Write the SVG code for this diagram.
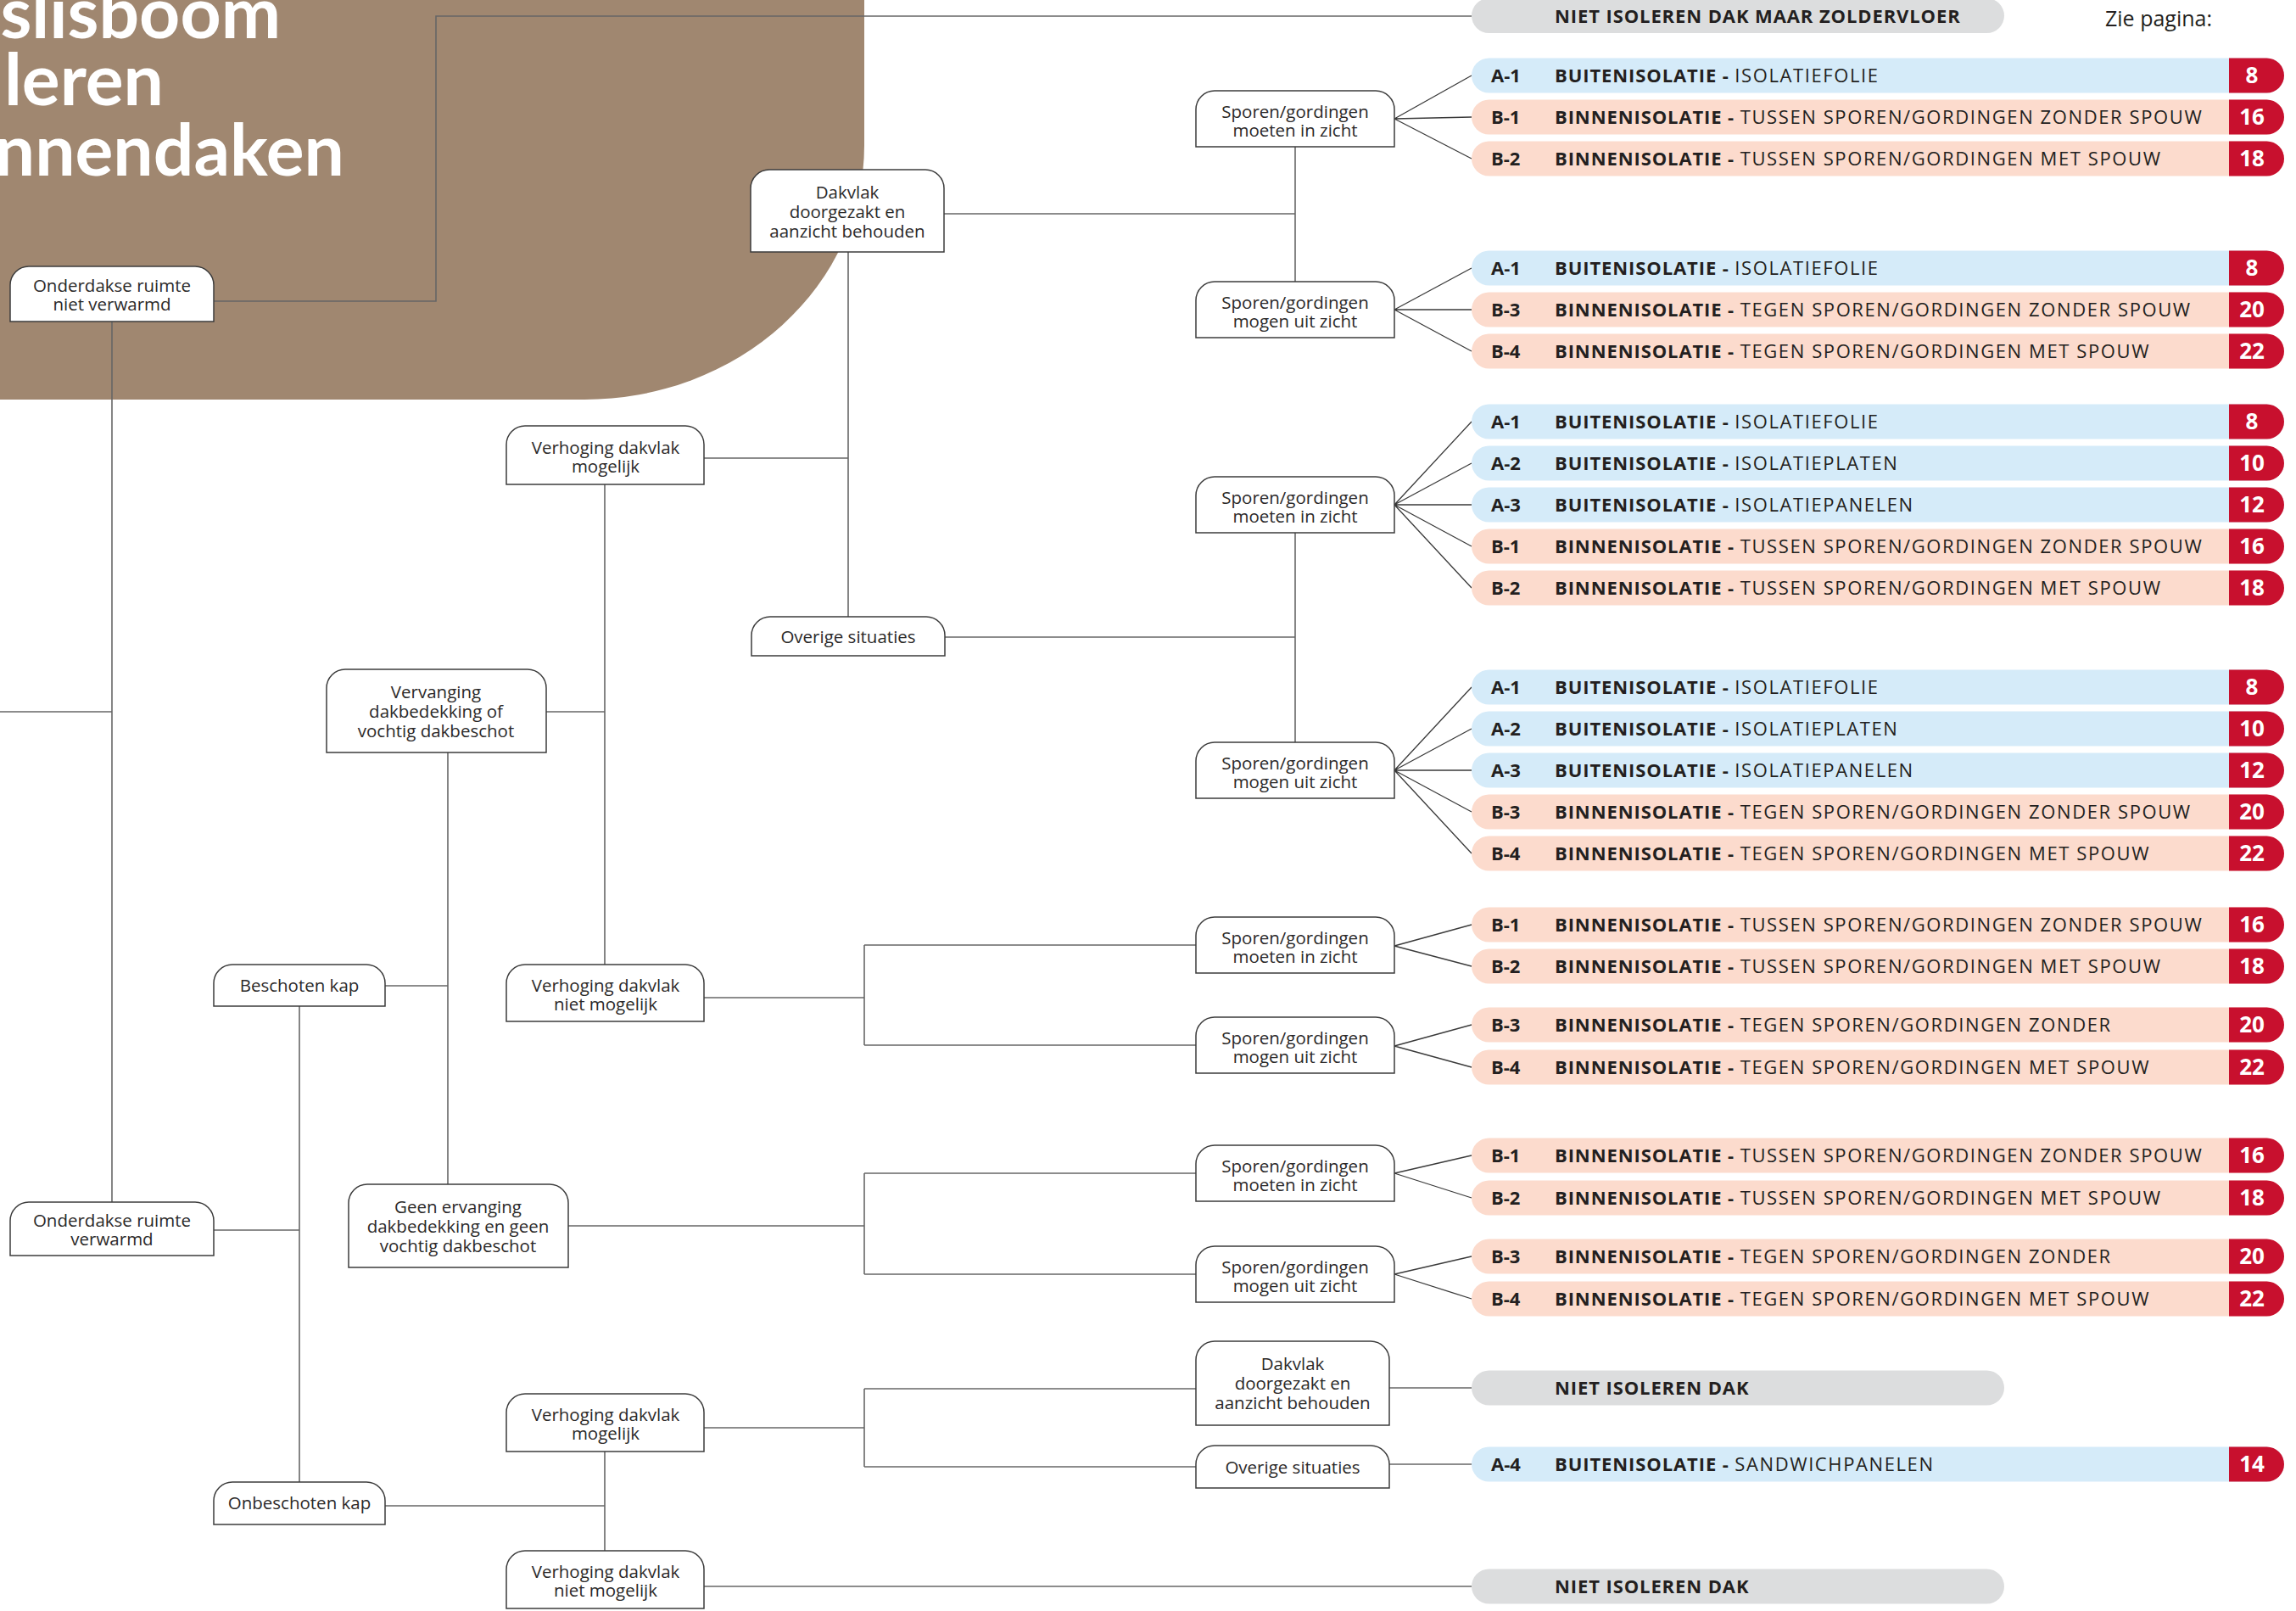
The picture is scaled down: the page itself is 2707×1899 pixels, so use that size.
<svg xmlns="http://www.w3.org/2000/svg" width="2707" height="1899" viewBox="0 0 2707 1899">
<defs>
<style>
.bg{fill:#a08770}
.title{font-family:Lato,"Open Sans",sans-serif;font-weight:700;font-size:84px;fill:#ffffff;text-anchor:end}
.node path{fill:#ffffff;stroke:#3c3c3c;stroke-width:1.5}
.node text{font-family:"Open Sans","Noto Sans",sans-serif;font-weight:500;font-size:20.5px;fill:#2b2929;text-anchor:middle}
.conn path{fill:none;stroke:#666666;stroke-width:1.6}
.fan path{fill:none;stroke:#3a3a3a;stroke-width:1.3}
.pa{fill:#d5ebf9}
.pb{fill:#fcdbcd}
.pg{fill:#dcddde}
.badge{fill:#c8102e}
.code{font-family:"Open Sans","Noto Sans",sans-serif;font-weight:700;font-size:22px;fill:#231f20}
.ptxt{font-family:"Open Sans","Noto Sans",sans-serif;font-size:22px;fill:#231f20}
.ptxt .b{font-weight:700;letter-spacing:0.9px}
.ptxt .m{font-weight:500;letter-spacing:1.6px}
.num{font-family:"Open Sans","Noto Sans",sans-serif;font-weight:700;font-size:26px;fill:#ffffff;text-anchor:middle}
.zie{font-family:"Open Sans","Noto Sans",sans-serif;font-size:25px;fill:#231f20}
</style>
</defs>
<rect width="2707" height="1899" fill="#ffffff"/>
<path class="bg" d="M0,-5 H1019 V171 A330 300 0 0 1 689,471 H0 Z"/>
<g id="title">
<text class="title" x="331" y="45">slisboom</text>
<text class="title" x="193" y="124">leren</text>
<text class="title" x="406" y="207">nnendaken</text>
</g>
<text class="zie" x="2482" y="31">Zie pagina:</text>

<g id="connectors" class="conn">
<path d="M252,355 H514 V19 H1735"/>
<path d="M132,379 V1417"/>
<path d="M0,839 H132"/>
<path d="M252,1450 H353"/>
<path d="M353,1186 V1747"/>
<path d="M454,1162 H528"/>
<path d="M528,887 V1396"/>
<path d="M644,839 H713"/>
<path d="M713,571 V1137"/>
<path d="M830,540 H1000"/>
<path d="M1000,297 V727"/>
<path d="M1113,252 H1527"/>
<path d="M1527,173 V332"/>
<path d="M1114,751 H1527"/>
<path d="M1527,628 V875"/>
<path d="M830,1176 H1019"/>
<path d="M1019,1114 V1232"/>
<path d="M1019,1114 H1410"/>
<path d="M1019,1232 H1410"/>
<path d="M670,1445 H1019"/>
<path d="M1019,1383 V1502"/>
<path d="M1019,1383 H1410"/>
<path d="M1019,1502 H1410"/>
<path d="M454,1775 H713"/>
<path d="M713,1711 V1828"/>
<path d="M830,1683 H1019"/>
<path d="M1019,1637 V1729"/>
<path d="M1019,1637 H1410"/>
<path d="M1019,1729 H1410"/>
<path d="M830,1870 H1735"/>
<path d="M1638,1636 H1735"/>
<path d="M1638,1726 H1735"/>
</g>
<g id="fans" class="fan">
<path d="M1644,140 L1735,89 M1644,140 L1735,138 M1644,140 L1735,187"/>
<path d="M1644,365 L1735,316 M1644,365 L1735,365 M1644,365 L1735,414"/>
<path d="M1644,595 L1735,497 M1644,595 L1735,546 M1644,595 L1735,595 M1644,595 L1735,644 M1644,595 L1735,693"/>
<path d="M1644,908 L1735,810 M1644,908 L1735,859 M1644,908 L1735,908 M1644,908 L1735,957 M1644,908 L1735,1006"/>
<path d="M1644,1115 L1735,1090 M1644,1115 L1735,1139"/>
<path d="M1644,1233 L1735,1208 M1644,1233 L1735,1258"/>
<path d="M1644,1383 L1735,1362 M1644,1383 L1735,1412"/>
<path d="M1644,1502 L1735,1481 M1644,1502 L1735,1531"/>
</g>

<g id="n_ond_nv" class="node"><path d="M12,379 V336 A22 22 0 0 1 34,314 H230 A22 22 0 0 1 252,336 V379 Z"/><text x="132" y="344">Onderdakse ruimte</text><text x="132" y="366">niet verwarmd</text></g>
<g id="n_ond_v" class="node"><path d="M12,1480 V1439 A22 22 0 0 1 34,1417 H230 A22 22 0 0 1 252,1439 V1480 Z"/><text x="132" y="1446">Onderdakse ruimte</text><text x="132" y="1468">verwarmd</text></g>
<g id="n_besch" class="node"><path d="M252,1186 V1159 A22 22 0 0 1 274,1137 H432 A22 22 0 0 1 454,1159 V1186 Z"/><text x="353" y="1169">Beschoten kap</text></g>
<g id="n_onbesch" class="node"><path d="M252,1797 V1769 A22 22 0 0 1 274,1747 H432 A22 22 0 0 1 454,1769 V1797 Z"/><text x="353" y="1779">Onbeschoten kap</text></g>
<g id="n_verv" class="node"><path d="M385,887 V811 A22 22 0 0 1 407,789 H622 A22 22 0 0 1 644,811 V887 Z"/><text x="514" y="823">Vervanging</text><text x="514" y="846">dakbedekking of</text><text x="514" y="869">vochtig dakbeschot</text></g>
<g id="n_geen" class="node"><path d="M411,1494 V1418 A22 22 0 0 1 433,1396 H648 A22 22 0 0 1 670,1418 V1494 Z"/><text x="540" y="1430">Geen ervanging</text><text x="540" y="1453">dakbedekking en geen</text><text x="540" y="1476">vochtig dakbeschot</text></g>
<g id="n_verh_m1" class="node"><path d="M597,571 V524 A22 22 0 0 1 619,502 H808 A22 22 0 0 1 830,524 V571 Z"/><text x="714" y="535">Verhoging dakvlak</text><text x="714" y="557">mogelijk</text></g>
<g id="n_verh_nm1" class="node"><path d="M597,1204 V1159 A22 22 0 0 1 619,1137 H808 A22 22 0 0 1 830,1159 V1204 Z"/><text x="714" y="1169">Verhoging dakvlak</text><text x="714" y="1191">niet mogelijk</text></g>
<g id="n_verh_m2" class="node"><path d="M597,1711 V1665 A22 22 0 0 1 619,1643 H808 A22 22 0 0 1 830,1665 V1711 Z"/><text x="714" y="1675">Verhoging dakvlak</text><text x="714" y="1697">mogelijk</text></g>
<g id="n_verh_nm2" class="node"><path d="M597,1896 V1850 A22 22 0 0 1 619,1828 H808 A22 22 0 0 1 830,1850 V1896 Z"/><text x="714" y="1860">Verhoging dakvlak</text><text x="714" y="1882">niet mogelijk</text></g>
<g id="n_dak1" class="node"><path d="M885,297 V222 A22 22 0 0 1 907,200 H1091 A22 22 0 0 1 1113,222 V297 Z"/><text x="999" y="234">Dakvlak</text><text x="999" y="257">doorgezakt en</text><text x="999" y="280">aanzicht behouden</text></g>
<g id="n_over1" class="node"><path d="M886,773 V749 A22 22 0 0 1 908,727 H1092 A22 22 0 0 1 1114,749 V773 Z"/><text x="1000" y="758">Overige situaties</text></g>
<g id="n_sp1m" class="node"><path d="M1410,173 V129 A22 22 0 0 1 1432,107 H1622 A22 22 0 0 1 1644,129 V173 Z"/><text x="1527" y="139">Sporen/gordingen</text><text x="1527" y="161">moeten in zicht</text></g>
<g id="n_sp1u" class="node"><path d="M1410,398 V354 A22 22 0 0 1 1432,332 H1622 A22 22 0 0 1 1644,354 V398 Z"/><text x="1527" y="364">Sporen/gordingen</text><text x="1527" y="386">mogen uit zicht</text></g>
<g id="n_sp2m" class="node"><path d="M1410,628 V584 A22 22 0 0 1 1432,562 H1622 A22 22 0 0 1 1644,584 V628 Z"/><text x="1527" y="594">Sporen/gordingen</text><text x="1527" y="616">moeten in zicht</text></g>
<g id="n_sp2u" class="node"><path d="M1410,941 V897 A22 22 0 0 1 1432,875 H1622 A22 22 0 0 1 1644,897 V941 Z"/><text x="1527" y="907">Sporen/gordingen</text><text x="1527" y="929">mogen uit zicht</text></g>
<g id="n_sp3m" class="node"><path d="M1410,1147 V1103 A22 22 0 0 1 1432,1081 H1622 A22 22 0 0 1 1644,1103 V1147 Z"/><text x="1527" y="1113">Sporen/gordingen</text><text x="1527" y="1135">moeten in zicht</text></g>
<g id="n_sp3u" class="node"><path d="M1410,1265 V1221 A22 22 0 0 1 1432,1199 H1622 A22 22 0 0 1 1644,1221 V1265 Z"/><text x="1527" y="1231">Sporen/gordingen</text><text x="1527" y="1253">mogen uit zicht</text></g>
<g id="n_sp4m" class="node"><path d="M1410,1416 V1372 A22 22 0 0 1 1432,1350 H1622 A22 22 0 0 1 1644,1372 V1416 Z"/><text x="1527" y="1382">Sporen/gordingen</text><text x="1527" y="1404">moeten in zicht</text></g>
<g id="n_sp4u" class="node"><path d="M1410,1535 V1491 A22 22 0 0 1 1432,1469 H1622 A22 22 0 0 1 1644,1491 V1535 Z"/><text x="1527" y="1501">Sporen/gordingen</text><text x="1527" y="1523">mogen uit zicht</text></g>
<g id="n_dak2" class="node"><path d="M1410,1680 V1603 A22 22 0 0 1 1432,1581 H1616 A22 22 0 0 1 1638,1603 V1680 Z"/><text x="1524" y="1615">Dakvlak</text><text x="1524" y="1638">doorgezakt en</text><text x="1524" y="1661">aanzicht behouden</text></g>
<g id="n_over2" class="node"><path d="M1410,1754 V1726 A22 22 0 0 1 1432,1704 H1616 A22 22 0 0 1 1638,1726 V1754 Z"/><text x="1524" y="1737">Overige situaties</text></g>

<g id="outcomes">
<g id="o_zolder"><rect class="pg" x="1735" y="-2" width="628" height="41" rx="20.5"/><text class="ptxt" x="1833" y="27"><tspan class="b">NIET ISOLEREN DAK MAAR ZOLDERVLOER</tspan></text></g>

<g id="g1">
<rect class="pa" x="1735" y="68.5" width="958" height="41" rx="20.5"/><path class="badge" d="M2628,68.5 H2672.5 A20.5 20.5 0 0 1 2672.5,109.5 H2628 Z"/><text class="code" x="1758" y="97">A-1</text><text class="ptxt" x="1833" y="97"><tspan class="b">BUITENISOLATIE - </tspan><tspan class="m">ISOLATIEFOLIE</tspan></text><text class="num" x="2655" y="98">8</text>
<rect class="pb" x="1735" y="117.5" width="958" height="41" rx="20.5"/><path class="badge" d="M2628,117.5 H2672.5 A20.5 20.5 0 0 1 2672.5,158.5 H2628 Z"/><text class="code" x="1758" y="146">B-1</text><text class="ptxt" x="1833" y="146"><tspan class="b">BINNENISOLATIE - </tspan><tspan class="m">TUSSEN SPOREN/GORDINGEN ZONDER SPOUW</tspan></text><text class="num" x="2655" y="147">16</text>
<rect class="pb" x="1735" y="166.5" width="958" height="41" rx="20.5"/><path class="badge" d="M2628,166.5 H2672.5 A20.5 20.5 0 0 1 2672.5,207.5 H2628 Z"/><text class="code" x="1758" y="195">B-2</text><text class="ptxt" x="1833" y="195"><tspan class="b">BINNENISOLATIE - </tspan><tspan class="m">TUSSEN SPOREN/GORDINGEN MET SPOUW</tspan></text><text class="num" x="2655" y="196">18</text>
</g>

<g id="g2">
<rect class="pa" x="1735" y="295.5" width="958" height="41" rx="20.5"/><path class="badge" d="M2628,295.5 H2672.5 A20.5 20.5 0 0 1 2672.5,336.5 H2628 Z"/><text class="code" x="1758" y="324">A-1</text><text class="ptxt" x="1833" y="324"><tspan class="b">BUITENISOLATIE - </tspan><tspan class="m">ISOLATIEFOLIE</tspan></text><text class="num" x="2655" y="325">8</text>
<rect class="pb" x="1735" y="344.5" width="958" height="41" rx="20.5"/><path class="badge" d="M2628,344.5 H2672.5 A20.5 20.5 0 0 1 2672.5,385.5 H2628 Z"/><text class="code" x="1758" y="373">B-3</text><text class="ptxt" x="1833" y="373"><tspan class="b">BINNENISOLATIE - </tspan><tspan class="m">TEGEN SPOREN/GORDINGEN ZONDER SPOUW</tspan></text><text class="num" x="2655" y="374">20</text>
<rect class="pb" x="1735" y="393.5" width="958" height="41" rx="20.5"/><path class="badge" d="M2628,393.5 H2672.5 A20.5 20.5 0 0 1 2672.5,434.5 H2628 Z"/><text class="code" x="1758" y="422">B-4</text><text class="ptxt" x="1833" y="422"><tspan class="b">BINNENISOLATIE - </tspan><tspan class="m">TEGEN SPOREN/GORDINGEN MET SPOUW</tspan></text><text class="num" x="2655" y="423">22</text>
</g>

<g id="g3">
<rect class="pa" x="1735" y="476.5" width="958" height="41" rx="20.5"/><path class="badge" d="M2628,476.5 H2672.5 A20.5 20.5 0 0 1 2672.5,517.5 H2628 Z"/><text class="code" x="1758" y="505">A-1</text><text class="ptxt" x="1833" y="505"><tspan class="b">BUITENISOLATIE - </tspan><tspan class="m">ISOLATIEFOLIE</tspan></text><text class="num" x="2655" y="506">8</text>
<rect class="pa" x="1735" y="525.5" width="958" height="41" rx="20.5"/><path class="badge" d="M2628,525.5 H2672.5 A20.5 20.5 0 0 1 2672.5,566.5 H2628 Z"/><text class="code" x="1758" y="554">A-2</text><text class="ptxt" x="1833" y="554"><tspan class="b">BUITENISOLATIE - </tspan><tspan class="m">ISOLATIEPLATEN</tspan></text><text class="num" x="2655" y="555">10</text>
<rect class="pa" x="1735" y="574.5" width="958" height="41" rx="20.5"/><path class="badge" d="M2628,574.5 H2672.5 A20.5 20.5 0 0 1 2672.5,615.5 H2628 Z"/><text class="code" x="1758" y="603">A-3</text><text class="ptxt" x="1833" y="603"><tspan class="b">BUITENISOLATIE - </tspan><tspan class="m">ISOLATIEPANELEN</tspan></text><text class="num" x="2655" y="604">12</text>
<rect class="pb" x="1735" y="623.5" width="958" height="41" rx="20.5"/><path class="badge" d="M2628,623.5 H2672.5 A20.5 20.5 0 0 1 2672.5,664.5 H2628 Z"/><text class="code" x="1758" y="652">B-1</text><text class="ptxt" x="1833" y="652"><tspan class="b">BINNENISOLATIE - </tspan><tspan class="m">TUSSEN SPOREN/GORDINGEN ZONDER SPOUW</tspan></text><text class="num" x="2655" y="653">16</text>
<rect class="pb" x="1735" y="672.5" width="958" height="41" rx="20.5"/><path class="badge" d="M2628,672.5 H2672.5 A20.5 20.5 0 0 1 2672.5,713.5 H2628 Z"/><text class="code" x="1758" y="701">B-2</text><text class="ptxt" x="1833" y="701"><tspan class="b">BINNENISOLATIE - </tspan><tspan class="m">TUSSEN SPOREN/GORDINGEN MET SPOUW</tspan></text><text class="num" x="2655" y="702">18</text>
</g>

<g id="g4">
<rect class="pa" x="1735" y="789.5" width="958" height="41" rx="20.5"/><path class="badge" d="M2628,789.5 H2672.5 A20.5 20.5 0 0 1 2672.5,830.5 H2628 Z"/><text class="code" x="1758" y="818">A-1</text><text class="ptxt" x="1833" y="818"><tspan class="b">BUITENISOLATIE - </tspan><tspan class="m">ISOLATIEFOLIE</tspan></text><text class="num" x="2655" y="819">8</text>
<rect class="pa" x="1735" y="838.5" width="958" height="41" rx="20.5"/><path class="badge" d="M2628,838.5 H2672.5 A20.5 20.5 0 0 1 2672.5,879.5 H2628 Z"/><text class="code" x="1758" y="867">A-2</text><text class="ptxt" x="1833" y="867"><tspan class="b">BUITENISOLATIE - </tspan><tspan class="m">ISOLATIEPLATEN</tspan></text><text class="num" x="2655" y="868">10</text>
<rect class="pa" x="1735" y="887.5" width="958" height="41" rx="20.5"/><path class="badge" d="M2628,887.5 H2672.5 A20.5 20.5 0 0 1 2672.5,928.5 H2628 Z"/><text class="code" x="1758" y="916">A-3</text><text class="ptxt" x="1833" y="916"><tspan class="b">BUITENISOLATIE - </tspan><tspan class="m">ISOLATIEPANELEN</tspan></text><text class="num" x="2655" y="917">12</text>
<rect class="pb" x="1735" y="936.5" width="958" height="41" rx="20.5"/><path class="badge" d="M2628,936.5 H2672.5 A20.5 20.5 0 0 1 2672.5,977.5 H2628 Z"/><text class="code" x="1758" y="965">B-3</text><text class="ptxt" x="1833" y="965"><tspan class="b">BINNENISOLATIE - </tspan><tspan class="m">TEGEN SPOREN/GORDINGEN ZONDER SPOUW</tspan></text><text class="num" x="2655" y="966">20</text>
<rect class="pb" x="1735" y="985.5" width="958" height="41" rx="20.5"/><path class="badge" d="M2628,985.5 H2672.5 A20.5 20.5 0 0 1 2672.5,1026.5 H2628 Z"/><text class="code" x="1758" y="1014">B-4</text><text class="ptxt" x="1833" y="1014"><tspan class="b">BINNENISOLATIE - </tspan><tspan class="m">TEGEN SPOREN/GORDINGEN MET SPOUW</tspan></text><text class="num" x="2655" y="1015">22</text>
</g>

<g id="g5">
<rect class="pb" x="1735" y="1069.5" width="958" height="41" rx="20.5"/><path class="badge" d="M2628,1069.5 H2672.5 A20.5 20.5 0 0 1 2672.5,1110.5 H2628 Z"/><text class="code" x="1758" y="1098">B-1</text><text class="ptxt" x="1833" y="1098"><tspan class="b">BINNENISOLATIE - </tspan><tspan class="m">TUSSEN SPOREN/GORDINGEN ZONDER SPOUW</tspan></text><text class="num" x="2655" y="1099">16</text>
<rect class="pb" x="1735" y="1118.5" width="958" height="41" rx="20.5"/><path class="badge" d="M2628,1118.5 H2672.5 A20.5 20.5 0 0 1 2672.5,1159.5 H2628 Z"/><text class="code" x="1758" y="1147">B-2</text><text class="ptxt" x="1833" y="1147"><tspan class="b">BINNENISOLATIE - </tspan><tspan class="m">TUSSEN SPOREN/GORDINGEN MET SPOUW</tspan></text><text class="num" x="2655" y="1148">18</text>
</g>

<g id="g6">
<rect class="pb" x="1735" y="1187.5" width="958" height="41" rx="20.5"/><path class="badge" d="M2628,1187.5 H2672.5 A20.5 20.5 0 0 1 2672.5,1228.5 H2628 Z"/><text class="code" x="1758" y="1216">B-3</text><text class="ptxt" x="1833" y="1216"><tspan class="b">BINNENISOLATIE - </tspan><tspan class="m">TEGEN SPOREN/GORDINGEN ZONDER</tspan></text><text class="num" x="2655" y="1217">20</text>
<rect class="pb" x="1735" y="1237.5" width="958" height="41" rx="20.5"/><path class="badge" d="M2628,1237.5 H2672.5 A20.5 20.5 0 0 1 2672.5,1278.5 H2628 Z"/><text class="code" x="1758" y="1266">B-4</text><text class="ptxt" x="1833" y="1266"><tspan class="b">BINNENISOLATIE - </tspan><tspan class="m">TEGEN SPOREN/GORDINGEN MET SPOUW</tspan></text><text class="num" x="2655" y="1267">22</text>
</g>

<g id="g7">
<rect class="pb" x="1735" y="1341.5" width="958" height="41" rx="20.5"/><path class="badge" d="M2628,1341.5 H2672.5 A20.5 20.5 0 0 1 2672.5,1382.5 H2628 Z"/><text class="code" x="1758" y="1370">B-1</text><text class="ptxt" x="1833" y="1370"><tspan class="b">BINNENISOLATIE - </tspan><tspan class="m">TUSSEN SPOREN/GORDINGEN ZONDER SPOUW</tspan></text><text class="num" x="2655" y="1371">16</text>
<rect class="pb" x="1735" y="1391.5" width="958" height="41" rx="20.5"/><path class="badge" d="M2628,1391.5 H2672.5 A20.5 20.5 0 0 1 2672.5,1432.5 H2628 Z"/><text class="code" x="1758" y="1420">B-2</text><text class="ptxt" x="1833" y="1420"><tspan class="b">BINNENISOLATIE - </tspan><tspan class="m">TUSSEN SPOREN/GORDINGEN MET SPOUW</tspan></text><text class="num" x="2655" y="1421">18</text>
</g>

<g id="g8">
<rect class="pb" x="1735" y="1460.5" width="958" height="41" rx="20.5"/><path class="badge" d="M2628,1460.5 H2672.5 A20.5 20.5 0 0 1 2672.5,1501.5 H2628 Z"/><text class="code" x="1758" y="1489">B-3</text><text class="ptxt" x="1833" y="1489"><tspan class="b">BINNENISOLATIE - </tspan><tspan class="m">TEGEN SPOREN/GORDINGEN ZONDER</tspan></text><text class="num" x="2655" y="1490">20</text>
<rect class="pb" x="1735" y="1510.5" width="958" height="41" rx="20.5"/><path class="badge" d="M2628,1510.5 H2672.5 A20.5 20.5 0 0 1 2672.5,1551.5 H2628 Z"/><text class="code" x="1758" y="1539">B-4</text><text class="ptxt" x="1833" y="1539"><tspan class="b">BINNENISOLATIE - </tspan><tspan class="m">TEGEN SPOREN/GORDINGEN MET SPOUW</tspan></text><text class="num" x="2655" y="1540">22</text>
</g>

<g id="o_niet1"><rect class="pg" x="1735" y="1615.5" width="628" height="41" rx="20.5"/><text class="ptxt" x="1833" y="1644"><tspan class="b">NIET ISOLEREN DAK</tspan></text></g>
<g id="o_a4"><rect class="pa" x="1735" y="1705.5" width="958" height="41" rx="20.5"/><path class="badge" d="M2628,1705.5 H2672.5 A20.5 20.5 0 0 1 2672.5,1746.5 H2628 Z"/><text class="code" x="1758" y="1734">A-4</text><text class="ptxt" x="1833" y="1734"><tspan class="b">BUITENISOLATIE - </tspan><tspan class="m">SANDWICHPANELEN</tspan></text><text class="num" x="2655" y="1735">14</text></g>
<g id="o_niet2"><rect class="pg" x="1735" y="1849.5" width="628" height="41" rx="20.5"/><text class="ptxt" x="1833" y="1878"><tspan class="b">NIET ISOLEREN DAK</tspan></text></g>
</g>
</svg>
